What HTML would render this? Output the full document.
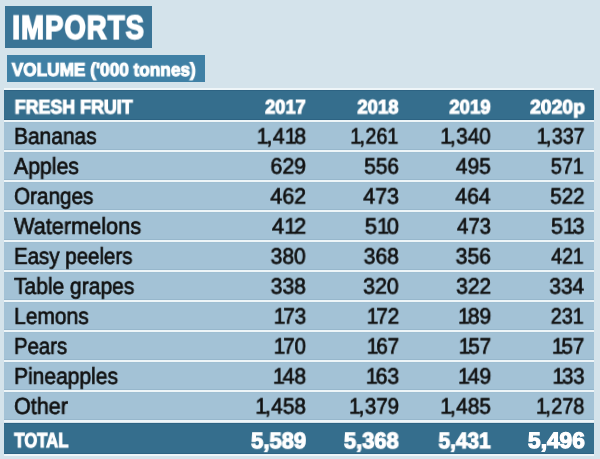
<!DOCTYPE html>
<html><head><meta charset="utf-8"><style>
*{margin:0;padding:0;box-sizing:border-box}
html,body{width:600px;height:459px;overflow:hidden;background:#d4e3eb;font-family:"Liberation Sans",sans-serif}
.a{position:absolute}
.t{position:absolute;white-space:nowrap;line-height:1;text-rendering:geometricPrecision;will-change:transform}
.l{transform-origin:0 0}
.r{transform-origin:100% 0}
.n{-webkit-text-stroke:0.7px #111;color:#111}
.w{color:#fff;font-weight:bold;-webkit-text-stroke:1.1px #fff}
.vv{-webkit-text-stroke:1.1px #fff}
.tt{-webkit-text-stroke:1.2px #fff}
.imp{-webkit-text-stroke:1.8px #fff;letter-spacing:1.5px}
.o{letter-spacing:-2.2px}
.c{letter-spacing:0.6px}
</style></head>
<body>
<div class="a" style="left:4.5px;top:6px;width:147.5px;height:41.5px;background:#3a7496;"></div>
<div class="t l w imp" style="left:12px;top:11px;font-size:33px;transform:translate(0.298px,-0.434px) scaleX(0.8260)">IMPORTS</div>
<div class="a" style="left:6.5px;top:55.3px;width:198.5px;height:26.3px;background:#3f80a5;"></div>
<div class="t l w vv" style="left:12px;top:61px;font-size:18.5px;transform:translate(-0.235px,-0.160px) scaleX(0.9307)">VOLUME ('000 tonnes)</div>
<div class="a" style="left:4.2px;top:88px;width:589.8px;height:2px;background:#eef5f8;"></div>
<div class="a" style="left:4.2px;top:90px;width:589.8px;height:29.5px;background:#356e8d;border-top:1px solid #2d6383;border-bottom:1px solid #2d6383"></div>
<div class="t l w" style="left:15px;top:98px;font-size:19.5px;transform:translate(-0.345px,0.493px) scaleX(0.9153)">FRESH FRUIT</div>
<div class="t r w" style="right:295px;top:98px;font-size:19.5px;transform:translate(0.302px,0.493px) scaleX(0.9348)">2017</div>
<div class="t r w" style="right:202px;top:98px;font-size:19.5px;transform:translate(0.161px,0.493px) scaleX(0.9500)">2018</div>
<div class="t r w" style="right:110px;top:98px;font-size:19.5px;transform:translate(0.254px,0.493px) scaleX(0.9526)">2019</div>
<div class="t r w" style="right:15px;top:98px;font-size:19.5px;transform:translate(-0.497px,0.493px) scaleX(0.9887)">2020p</div>
<div class="a" style="left:4.2px;top:120px;width:589.8px;height:2px;background:#eef5f8;"></div>
<div class="a" style="left:4.2px;top:122px;width:589.8px;height:28px;background:#a3c2d6;border-bottom:1px solid #97b7cc;border-top:1px solid #9fbfd3"></div>
<div class="t l n" style="left:14px;top:125px;font-size:23.2px;transform:translate(0.000px,-0.089px) scaleX(0.9028)">Bananas</div>
<div class="t r n" style="right:294px;top:126px;font-size:22.3px;transform:translate(0.204px,-0.327px) scaleX(0.9515)"><span class="o">1</span><span class="c">,</span>4<span class="o">1</span>8</div>
<div class="t r n" style="right:202px;top:126px;font-size:22.3px;transform:translate(0.154px,-0.327px) scaleX(0.8859)"><span class="o">1</span><span class="c">,</span>261</div>
<div class="t r n" style="right:109px;top:126px;font-size:22.3px;transform:translate(-0.465px,-0.327px) scaleX(0.9292)"><span class="o">1</span><span class="c">,</span>340</div>
<div class="t r n" style="right:16px;top:126px;font-size:22.3px;transform:translate(0.370px,-0.327px) scaleX(0.8817)"><span class="o">1</span><span class="c">,</span>337</div>
<div class="a" style="left:4.2px;top:150px;width:589.8px;height:2px;background:#eef5f8;"></div>
<div class="a" style="left:4.2px;top:152px;width:589.8px;height:28px;background:#a3c2d6;border-bottom:1px solid #97b7cc;border-top:1px solid #9fbfd3"></div>
<div class="t l n" style="left:14px;top:155px;font-size:23.2px;transform:translate(0.000px,-0.089px) scaleX(0.9163)">Apples</div>
<div class="t r n" style="right:294px;top:156px;font-size:22.3px;transform:translate(-0.146px,-0.327px) scaleX(0.9579)">629</div>
<div class="t r n" style="right:201px;top:156px;font-size:22.3px;transform:translate(-0.261px,-0.327px) scaleX(0.9349)">556</div>
<div class="t r n" style="right:109px;top:156px;font-size:22.3px;transform:translate(-0.337px,-0.327px) scaleX(0.9414)">495</div>
<div class="t r n" style="right:16px;top:156px;font-size:22.3px;transform:translate(-0.451px,-0.327px) scaleX(0.8852)">571</div>
<div class="a" style="left:4.2px;top:180px;width:589.8px;height:2px;background:#eef5f8;"></div>
<div class="a" style="left:4.2px;top:182px;width:589.8px;height:28px;background:#a3c2d6;border-bottom:1px solid #97b7cc;border-top:1px solid #9fbfd3"></div>
<div class="t l n" style="left:14px;top:185px;font-size:23.2px;transform:translate(0.000px,-0.089px) scaleX(0.8927)">Oranges</div>
<div class="t r n" style="right:294px;top:186px;font-size:22.3px;transform:translate(-0.081px,-0.327px) scaleX(0.9626)">462</div>
<div class="t r n" style="right:201px;top:186px;font-size:22.3px;transform:translate(-0.245px,-0.327px) scaleX(0.9598)">473</div>
<div class="t r n" style="right:110px;top:186px;font-size:22.3px;transform:translate(0.444px,-0.327px) scaleX(0.9506)">464</div>
<div class="t r n" style="right:16px;top:186px;font-size:22.3px;transform:translate(0.349px,-0.327px) scaleX(0.9228)">522</div>
<div class="a" style="left:4.2px;top:210px;width:589.8px;height:2px;background:#eef5f8;"></div>
<div class="a" style="left:4.2px;top:212px;width:589.8px;height:28px;background:#a3c2d6;border-bottom:1px solid #97b7cc;border-top:1px solid #9fbfd3"></div>
<div class="t l n" style="left:14px;top:215px;font-size:23.2px;transform:translate(0.000px,-0.089px) scaleX(0.9364)">Watermelons</div>
<div class="t r n" style="right:294px;top:216px;font-size:22.3px;transform:translate(0.257px,-0.327px) scaleX(0.9786)">4<span class="o">1</span>2</div>
<div class="t r n" style="right:201px;top:216px;font-size:22.3px;transform:translate(0.066px,-0.327px) scaleX(0.9792)">5<span class="o">1</span>0</div>
<div class="t r n" style="right:109px;top:216px;font-size:22.3px;transform:translate(-0.278px,-0.327px) scaleX(0.9098)">473</div>
<div class="t r n" style="right:15px;top:216px;font-size:22.3px;transform:translate(-0.372px,-0.327px) scaleX(0.9615)">5<span class="o">1</span>3</div>
<div class="a" style="left:4.2px;top:240px;width:589.8px;height:2px;background:#eef5f8;"></div>
<div class="a" style="left:4.2px;top:242px;width:589.8px;height:28px;background:#a3c2d6;border-bottom:1px solid #97b7cc;border-top:1px solid #9fbfd3"></div>
<div class="t l n" style="left:14px;top:245px;font-size:23.2px;transform:translate(0.000px,-0.089px) scaleX(0.8832)">Easy peelers</div>
<div class="t r n" style="right:294px;top:246px;font-size:22.3px;transform:translate(-0.465px,-0.327px) scaleX(0.9454)">380</div>
<div class="t r n" style="right:201px;top:246px;font-size:22.3px;transform:translate(-0.269px,-0.327px) scaleX(0.9493)">368</div>
<div class="t r n" style="right:109px;top:246px;font-size:22.3px;transform:translate(-0.261px,-0.327px) scaleX(0.9500)">356</div>
<div class="t r n" style="right:16px;top:246px;font-size:22.3px;transform:translate(-0.490px,-0.327px) scaleX(0.8729)">421</div>
<div class="a" style="left:4.2px;top:270px;width:589.8px;height:2px;background:#eef5f8;"></div>
<div class="a" style="left:4.2px;top:272px;width:589.8px;height:28px;background:#a3c2d6;border-bottom:1px solid #97b7cc;border-top:1px solid #9fbfd3"></div>
<div class="t l n" style="left:14px;top:275px;font-size:23.2px;transform:translate(0.000px,-0.089px) scaleX(0.9058)">Table grapes</div>
<div class="t r n" style="right:294px;top:276px;font-size:22.3px;transform:translate(-0.269px,-0.327px) scaleX(0.9493)">338</div>
<div class="t r n" style="right:201px;top:276px;font-size:22.3px;transform:translate(-0.465px,-0.327px) scaleX(0.9579)">320</div>
<div class="t r n" style="right:109px;top:276px;font-size:22.3px;transform:translate(-0.081px,-0.327px) scaleX(0.9404)">322</div>
<div class="t r n" style="right:16px;top:276px;font-size:22.3px;transform:translate(-0.139px,-0.327px) scaleX(0.9344)">334</div>
<div class="a" style="left:4.2px;top:300px;width:589.8px;height:2px;background:#eef5f8;"></div>
<div class="a" style="left:4.2px;top:302px;width:589.8px;height:28px;background:#a3c2d6;border-bottom:1px solid #97b7cc;border-top:1px solid #9fbfd3"></div>
<div class="t l n" style="left:14px;top:305px;font-size:23.2px;transform:translate(0.000px,-0.089px) scaleX(0.9056)">Lemons</div>
<div class="t r n" style="right:294px;top:306px;font-size:22.3px;transform:translate(0.214px,-0.327px) scaleX(0.9263)"><span class="o">1</span>73</div>
<div class="t r n" style="right:201px;top:306px;font-size:22.3px;transform:translate(0.257px,-0.327px) scaleX(0.9282)"><span class="o">1</span>72</div>
<div class="t r n" style="right:109px;top:306px;font-size:22.3px;transform:translate(0.275px,-0.327px) scaleX(0.9485)"><span class="o">1</span>89</div>
<div class="t r n" style="right:16px;top:306px;font-size:22.3px;transform:translate(-0.451px,-0.327px) scaleX(0.8892)">231</div>
<div class="a" style="left:4.2px;top:330px;width:589.8px;height:2px;background:#eef5f8;"></div>
<div class="a" style="left:4.2px;top:332px;width:589.8px;height:28px;background:#a3c2d6;border-bottom:1px solid #97b7cc;border-top:1px solid #9fbfd3"></div>
<div class="t l n" style="left:14px;top:335px;font-size:23.2px;transform:translate(0.000px,-0.089px) scaleX(0.8769)">Pears</div>
<div class="t r n" style="right:294px;top:336px;font-size:22.3px;transform:translate(0.025px,-0.327px) scaleX(0.9217)"><span class="o">1</span>70</div>
<div class="t r n" style="right:201px;top:336px;font-size:22.3px;transform:translate(0.239px,-0.327px) scaleX(0.9283)"><span class="o">1</span>67</div>
<div class="t r n" style="right:109px;top:336px;font-size:22.3px;transform:translate(0.239px,-0.327px) scaleX(0.9283)"><span class="o">1</span>57</div>
<div class="t r n" style="right:16px;top:336px;font-size:22.3px;transform:translate(0.388px,-0.327px) scaleX(0.9273)"><span class="o">1</span>57</div>
<div class="a" style="left:4.2px;top:360px;width:589.8px;height:2px;background:#eef5f8;"></div>
<div class="a" style="left:4.2px;top:362px;width:589.8px;height:28px;background:#a3c2d6;border-bottom:1px solid #97b7cc;border-top:1px solid #9fbfd3"></div>
<div class="t l n" style="left:14px;top:365px;font-size:23.2px;transform:translate(0.000px,-0.089px) scaleX(0.9062)">Pineapples</div>
<div class="t r n" style="right:294px;top:366px;font-size:22.3px;transform:translate(0.204px,-0.327px) scaleX(0.9497)"><span class="o">1</span>48</div>
<div class="t r n" style="right:201px;top:366px;font-size:22.3px;transform:translate(0.214px,-0.327px) scaleX(0.9528)"><span class="o">1</span>63</div>
<div class="t r n" style="right:109px;top:366px;font-size:22.3px;transform:translate(0.275px,-0.327px) scaleX(0.9485)"><span class="o">1</span>49</div>
<div class="t r n" style="right:15px;top:366px;font-size:22.3px;transform:translate(-0.391px,-0.327px) scaleX(0.9157)"><span class="o">1</span>33</div>
<div class="a" style="left:4.2px;top:390px;width:589.8px;height:2px;background:#eef5f8;"></div>
<div class="a" style="left:4.2px;top:392px;width:589.8px;height:28px;background:#a3c2d6;border-bottom:1px solid #97b7cc;border-top:1px solid #9fbfd3"></div>
<div class="t l n" style="left:14px;top:395px;font-size:23.2px;transform:translate(0.000px,-0.089px) scaleX(0.9311)">Other</div>
<div class="t r n" style="right:294px;top:396px;font-size:22.3px;transform:translate(-0.269px,-0.327px) scaleX(0.9322)"><span class="o">1</span><span class="c">,</span>458</div>
<div class="t r n" style="right:201px;top:396px;font-size:22.3px;transform:translate(-0.148px,-0.327px) scaleX(0.9212)"><span class="o">1</span><span class="c">,</span>379</div>
<div class="t r n" style="right:109px;top:396px;font-size:22.3px;transform:translate(-0.337px,-0.327px) scaleX(0.9314)"><span class="o">1</span><span class="c">,</span>485</div>
<div class="t r n" style="right:16px;top:396px;font-size:22.3px;transform:translate(0.160px,-0.327px) scaleX(0.8904)"><span class="o">1</span><span class="c">,</span>278</div>
<div class="a" style="left:4.2px;top:420px;width:589.8px;height:2px;background:#eef5f8;"></div>
<div class="a" style="left:4.2px;top:422.5px;width:589.8px;height:31.5px;background:#356e8d;border-top:1px solid #2d6383;border-bottom:1px solid #2d6383"></div>
<div class="a" style="left:4.2px;top:454.0px;width:589.8px;height:2.3px;background:#eef5f8;"></div>
<div class="t l w" style="left:14px;top:431px;font-size:20.5px;transform:translate(0.272px,0.247px) scaleX(0.8161)">TOTAL</div>
<div class="t r w tt" style="right:294px;top:430px;font-size:22.5px;transform:translate(-0.158px,0.154px) scaleX(0.9778)">5,589</div>
<div class="t r w tt" style="right:202px;top:430px;font-size:22.5px;transform:translate(0.445px,0.154px) scaleX(0.9737)">5,368</div>
<div class="t r w tt" style="right:110px;top:430px;font-size:22.5px;transform:translate(0.363px,0.154px) scaleX(0.9262)">5,431</div>
<div class="t r w tt" style="right:15px;top:430px;font-size:22.5px;transform:translate(-0.473px,0.154px) scaleX(1.0094)">5,496</div>
</body></html>
